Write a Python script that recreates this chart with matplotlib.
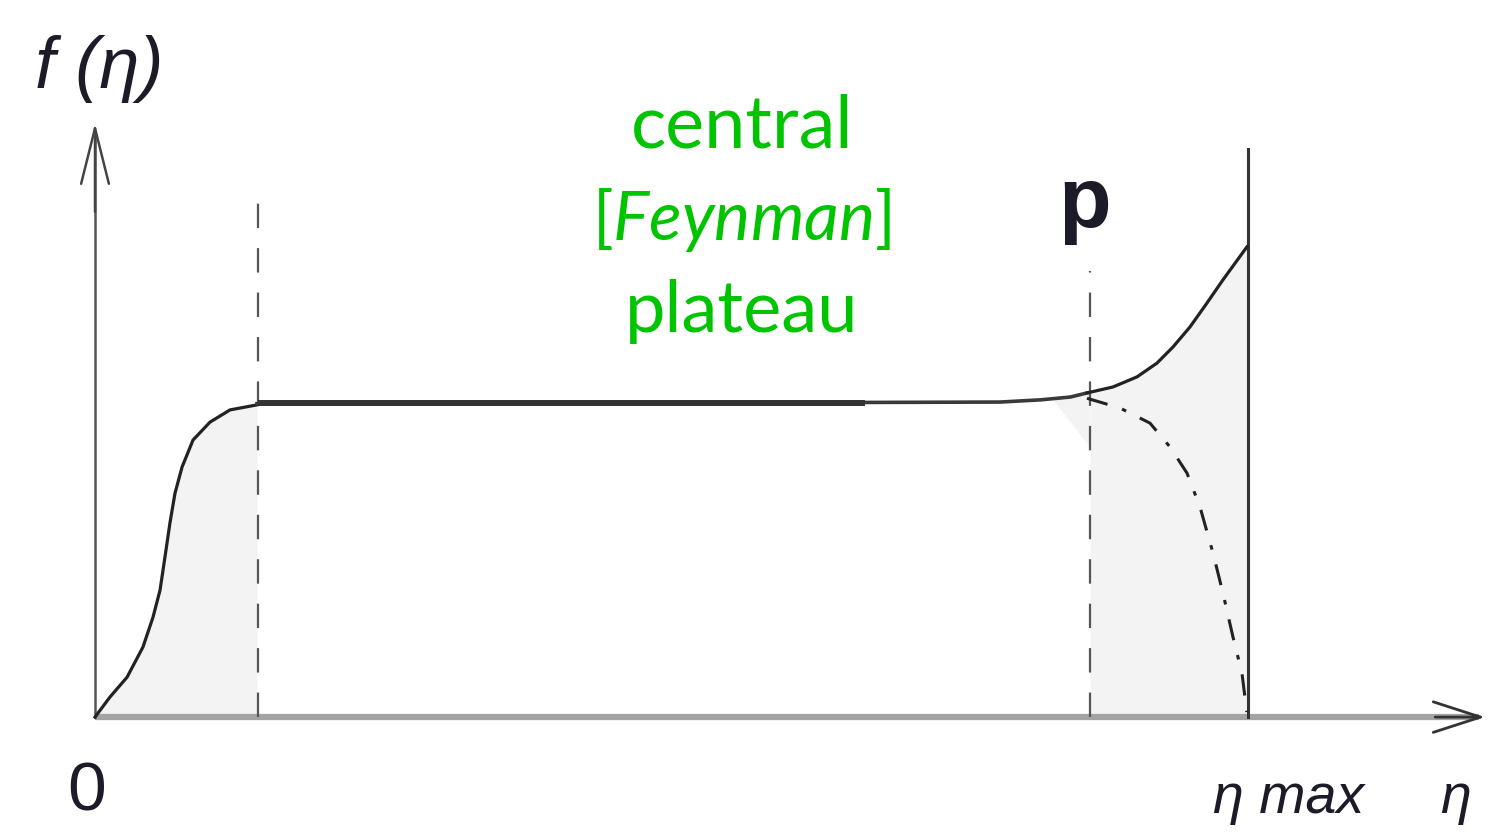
import numpy as np
import matplotlib.pyplot as plt

plt.rcParams['mathtext.fontset'] = 'custom'
plt.rcParams['mathtext.rm'] = 'Lato'
plt.rcParams['mathtext.it'] = 'Lato:italic'

# curve of f(eta), eta in units where eta_max = 10, plateau height = 1
eta_rise = [0.0, 0.130, 0.278, 0.416, 0.503, 0.564, 0.607, 0.650, 0.694,
            0.755, 0.850, 0.997, 1.171, 1.405]
f_rise = [0.0, 0.064, 0.127, 0.223, 0.318, 0.404, 0.510, 0.618, 0.713,
          0.796, 0.882, 0.939, 0.978, 0.994]

eta_plateau = [1.405, 5.0, 7.85, 8.20, 8.46, 8.604]
f_plateau = [0.998, 1.0, 1.003, 1.010, 1.019, 1.032]

eta_edge = [8.604, 8.829, 9.037, 9.211, 9.349, 9.497, 9.644, 9.783, 9.991]
f_edge = [1.032, 1.051, 1.083, 1.127, 1.178, 1.242, 1.318, 1.392, 1.497]

eta_drop = [8.604, 8.890, 9.150, 9.324, 9.471, 9.584, 9.697, 9.783, 9.870,
            9.948, 9.990]
f_drop = [1.015, 0.984, 0.936, 0.860, 0.777, 0.669, 0.522, 0.395, 0.255,
          0.140, 0.016]

eta_left_cut = 1.41
eta_right_cut = 8.63
eta_max = 10.0

fig = plt.figure(figsize=(14.91, 8.33), dpi=100)
ax = fig.add_axes([0, 0, 1, 1])
ax.set_xlim(-0.824, 12.108)
ax.set_ylim(-0.369, 2.283)
ax.axis('off')

shade = '#f3f3f3'
# shaded regions
ax.fill_between(eta_rise, 0, f_rise, color=shade, lw=0)
ax.fill_between([eta_right_cut] + eta_edge[1:], 0,
                [1.033] + f_edge[1:], color=shade, lw=0)
ax.fill([8.30, 8.63, 8.63], [1.015, 1.025, 0.86], color=shade, lw=0)

# axes
ax.plot([0, 12.0], [0, 0], color='#a3a3a3', lw=4.5, solid_capstyle='butt', zorder=2)
ax.annotate('', xy=(12.08, 0), xytext=(11.6, 0),
            arrowprops=dict(arrowstyle='->,head_length=1.7,head_width=0.55',
                            color='#333333', lw=2.0, mutation_scale=20))
ax.plot([0, 0], [0, 1.85], color='#555555', lw=1.8, zorder=2)
ax.annotate('', xy=(0, 1.90), xytext=(0, 1.6),
            arrowprops=dict(arrowstyle='->,head_length=2.0,head_width=0.5',
                            color='#444444', lw=1.8, mutation_scale=20))

# dashed cuts
ax.plot([eta_left_cut] * 2, [0, 1.69], color='#555555', lw=1.6,
        dashes=(11, 9), zorder=3)
ax.plot([eta_right_cut] * 2, [0, 1.42], color='#555555', lw=1.6,
        dashes=(11, 9), zorder=3)

# eta_max wall
ax.plot([eta_max] * 2, [0, 1.81], color='#333333', lw=2.2, zorder=4)

# curves
ax.plot(eta_rise, f_rise, color='#222222', lw=2.3, zorder=5)
ax.plot(eta_plateau, f_plateau, color='#3a3a3a', lw=2.6, zorder=5)
ax.plot([1.41, 6.68], [1.0, 1.0], color='#333333', lw=4.3,
        solid_capstyle='butt', zorder=5)
ax.plot(eta_edge, f_edge, color='#222222', lw=2.3, zorder=5)
ax.plot(eta_drop, f_drop, color='#222222', lw=2.2, dashes=(7, 5, 1.5, 5), zorder=5)

# labels
ink = '#1c1c28'
ax.text(-0.52, 2.003, 'f (η)', fontsize=52, color=ink, ha='left',
        va='baseline', family='Liberation Sans', style='italic')
ax.text(-0.07, -0.296, '0', fontsize=50, color=ink, ha='center',
        va='baseline', family='Liberation Sans')
ax.text(9.697, -0.306, 'η max', fontsize=40, color=ink, ha='left',
        va='baseline', family='Liberation Sans', style='italic')
ax.text(11.665, -0.306, 'η', fontsize=40, color=ink, ha='left',
        va='baseline', family='Liberation Sans', style='italic')
ax.text(8.586, 1.561, 'p', fontsize=62, fontweight='bold', color=ink,
        ha='center', va='baseline', family='Liberation Sans')

green = '#00c400'
ax.text(5.61, 1.815, 'central', fontsize=53, color=green, ha='center',
        va='baseline', family='Lato')
ax.text(5.61, 1.519, r'[$\mathit{Feynman}$]', fontsize=49, color=green,
        ha='center', va='baseline', family='Lato')
ax.text(5.61, 1.226, 'plateau', fontsize=52, color=green, ha='center',
        va='baseline', family='Lato')

fig.savefig('out.png', dpi=100)
